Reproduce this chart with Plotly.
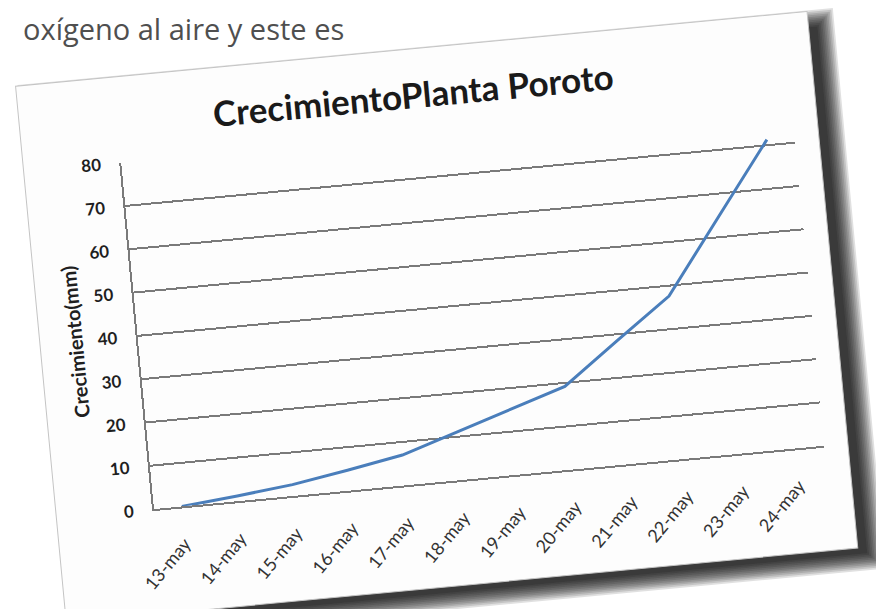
import plotly.graph_objects as go

# ---- data ----
fechas = ["13-may", "14-may", "15-may", "16-may", "17-may", "18-may",
          "19-may", "20-may", "21-may", "22-may", "23-may", "24-may"]
crecimiento_mm = [0, 1.2, 2.6, 4.7, 7.0, 11.1, 15.1, 19.2, 28.5, 37.6, 54.5, 71.3]
y_ticks = [0, 10, 20, 30, 40, 50, 60, 70, 80]

titulo = "CrecimientoPlanta Poroto"
titulo_y = "Crecimiento(mm)"
texto_pagina = "oxígeno al aire y este es"

# ---- geometry (unrotated pixels) ----
W, H = 884, 609
L, R, T, B = 135, 76, 133, 128
PW, PH = W - L - R, H - T - B
ANGLE = 5.4
SHIFT_X, SHIFT_Y = -7, -8


def px(xp):
    return (xp - L) / PW


def py(yp):
    return (H - B - yp) / PH


card = dict(x0=37, x1=832, y0=47, y1=586)

shapes = []
# soft drop shadow (layers)
offx, offy = 14, 11
for i in range(11):
    e = -5 + 1.7 * i
    shapes.append(dict(
        type="rect", xref="paper", yref="paper", layer="below",
        x0=px(card["x0"] + offx - e), x1=px(card["x1"] + offx + e),
        y0=py(card["y1"] + offy + e), y1=py(card["y0"] + offy - e),
        line=dict(width=0), fillcolor="rgba(0,0,0,0.12)"))
# white card
shapes.append(dict(
    type="rect", xref="paper", yref="paper", layer="below",
    x0=px(card["x0"]), x1=px(card["x1"]),
    y0=py(card["y1"]), y1=py(card["y0"]),
    line=dict(width=1, color="#c4c4c4"), fillcolor="#fdfdfd"))

fig = go.Figure()
fig.add_trace(go.Scatter(
    x=fechas, y=crecimiento_mm, mode="lines",
    line=dict(color="#4A7EBB", width=3), showlegend=False,
    hoverinfo="skip"))

fig.update_layout(
    width=W, height=H, autosize=False,
    margin=dict(l=L, r=R, t=T, b=B),
    paper_bgcolor="white", plot_bgcolor="rgba(0,0,0,0)",
    shapes=shapes,
    title=dict(text=titulo, x=432 / W, xanchor="center",
               y=1 - 94 / H, yanchor="middle",
               font=dict(family="Lato", size=35, color="#1a1a1a",
                         weight="bold")),
    annotations=[dict(text=texto_pagina, xref="paper", yref="paper",
                      x=px(13), xanchor="left", y=py(20), yanchor="middle",
                      showarrow=False,
                      font=dict(family="Open Sans", size=29, color="#4f4f4f"))],
)

fig.update_xaxes(
    type="category", range=[-0.5, len(fechas) - 0.5],
    showgrid=False, showline=True, linecolor="#7a7a7a", linewidth=2,
    ticks="", tickangle=-45, ticklabelstandoff=18,
    tickfont=dict(family="Lato", size=18, color="#333333"),
    zeroline=False, fixedrange=True)

fig.update_yaxes(
    range=[0, 80], tickvals=y_ticks, ticktext=[str(v) for v in y_ticks],
    showgrid=True, gridcolor="#7a7a7a", gridwidth=2,
    showline=True, linecolor="#7a7a7a", linewidth=2,
    ticks="", ticklabelstandoff=15,
    tickfont=dict(family="Lato", size=17, color="#1f1f1f", weight="bold"),
    title=dict(text=titulo_y, standoff=9,
               font=dict(family="Lato", size=20, color="#1f1f1f",
                         weight="bold")),
    zeroline=False, fixedrange=True)

post = """
var gd = document.getElementById('{plot_id}');
var sels = ['.layer-below', '.cartesianlayer', '.layer-above', '.g-gtitle', '.g-ytitle', '.g-xtitle'];
sels.forEach(function(s){
  gd.querySelectorAll(s).forEach(function(el){
    el.setAttribute('transform', 'translate(%s %s) rotate(-%s %s %s)');
  });
});
""" % (SHIFT_X, SHIFT_Y, ANGLE, W / 2, H / 2)

fig.write_html("out.html", config={"displayModeBar": False}, post_script=post)
